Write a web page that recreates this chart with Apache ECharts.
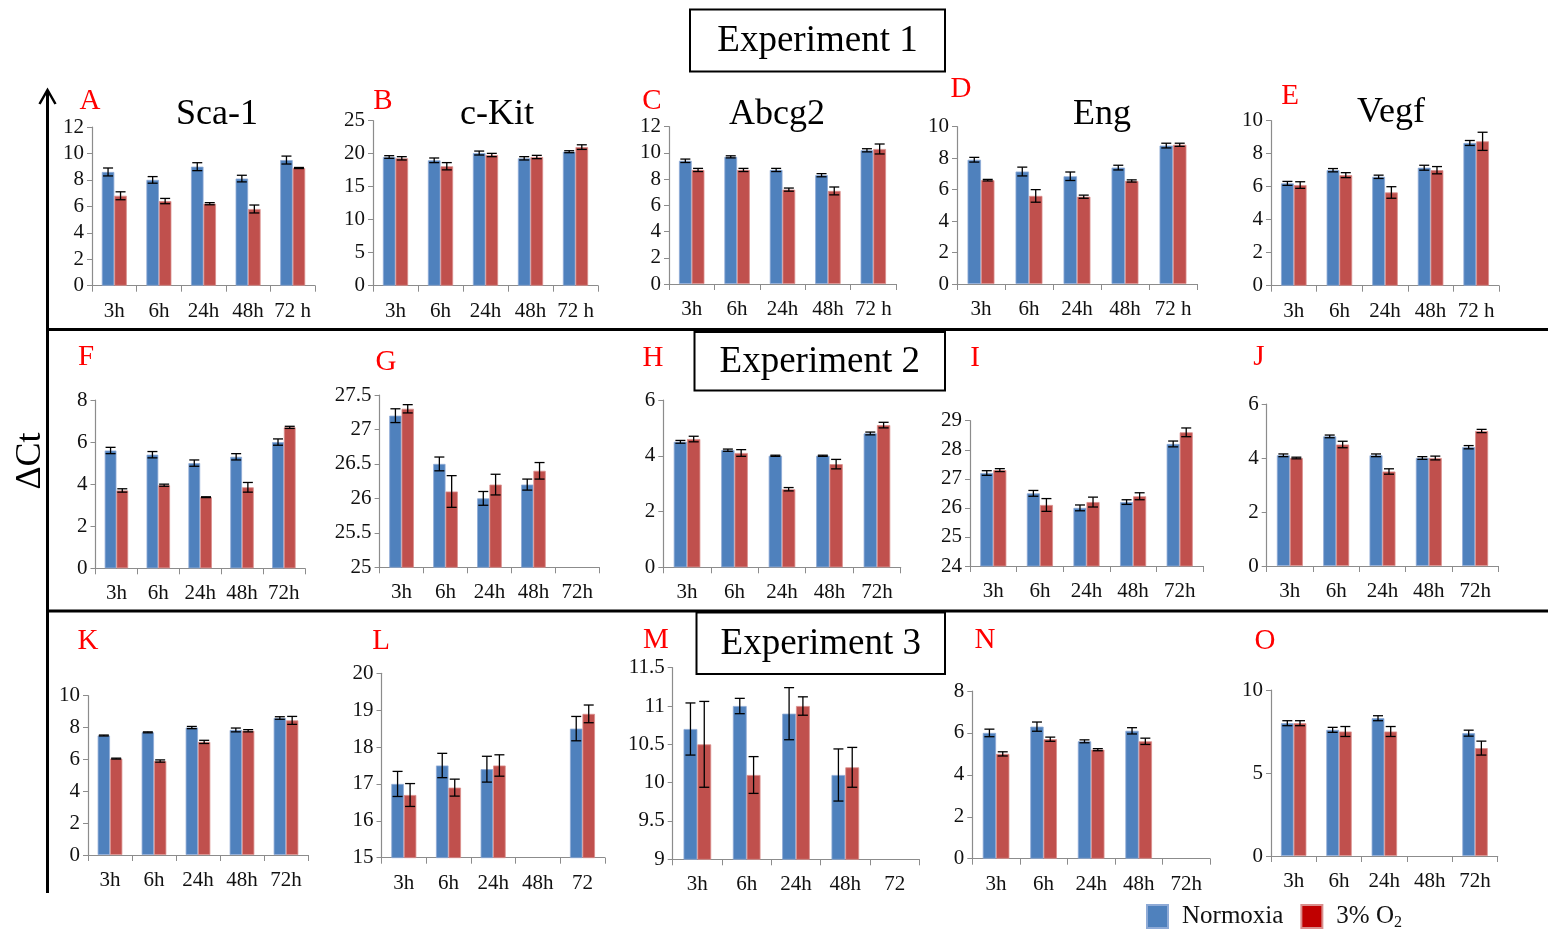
<!DOCTYPE html>
<html>
<head>
<meta charset="utf-8">
<script src="https://cdn.jsdelivr.net/npm/echarts@6/dist/echarts.min.js"></script>
<style>
html,body{margin:0;padding:0;background:#fff;}
#main{width:1548px;height:933px;}
</style>
</head>
<body>
<div id="main"></div>
<script>
// 时间点
var timeCats1=['3h','6h','24h','48h','72 h'];
var timeCats2=['3h','6h','24h','48h','72h'];
var timeCats3=['3h','6h','24h','48h','72'];

// Experiment 1
var aNorm=[8.6,8.0,9.0,8.1,9.5],       aNormErr=[0.3,0.25,0.3,0.25,0.3];
var aHyp=[6.8,6.4,6.2,5.8,8.9],        aHypErr=[0.3,0.2,0.08,0.3,0.04];
var bNorm=[19.5,19.0,20.1,19.3,20.3],  bNormErr=[0.2,0.35,0.3,0.25,0.15];
var bHyp=[19.3,18.1,19.8,19.5,21.0],   bHypErr=[0.25,0.55,0.25,0.25,0.35];
var cNorm=[9.4,9.7,8.7,8.3,10.2],      cNormErr=[0.13,0.08,0.12,0.12,0.12];
var cHyp=[8.7,8.7,7.2,7.1,10.3],       cHypErr=[0.12,0.12,0.12,0.3,0.38];
var dNorm=[7.9,7.15,6.85,7.4,8.8],     dNormErr=[0.15,0.28,0.27,0.15,0.15];
var dHyp=[6.6,5.6,5.55,6.55,8.85],     dHypErr=[0.05,0.4,0.1,0.07,0.1];
var eNorm=[6.2,7.0,6.6,7.15,8.65],     eNormErr=[0.12,0.1,0.1,0.15,0.15];
var eHyp=[6.1,6.7,5.65,7.0,8.75],      eHypErr=[0.2,0.15,0.35,0.22,0.55];
// Experiment 2
var fNorm=[5.6,5.4,5.0,5.3,6.0],       fNormErr=[0.15,0.15,0.15,0.15,0.15];
var fHyp=[3.7,3.95,3.38,3.85,6.7],     fHypErr=[0.08,0.05,0.02,0.23,0.05];
var gNorm=[27.2,26.5,26.0,26.2,null],  gNormErr=[0.1,0.1,0.1,0.08,null];
var gHyp=[27.3,26.1,26.2,26.4,null],   gHypErr=[0.06,0.23,0.15,0.12,null];
var hNorm=[4.5,4.2,4.0,4.0,4.8],       hNormErr=[0.05,0.04,0.02,0.02,0.05];
var hHyp=[4.6,4.1,2.8,3.7,5.1],        hHypErr=[0.1,0.12,0.06,0.17,0.1];
var iNorm=[27.2,26.5,26.0,26.2,28.2],  iNormErr=[0.08,0.1,0.1,0.08,0.1];
var iHyp=[27.3,26.1,26.2,26.4,28.6],   iHypErr=[0.05,0.22,0.17,0.12,0.15];
var jNorm=[4.1,4.8,4.1,4.0,4.4],       jNormErr=[0.05,0.05,0.05,0.05,0.06];
var jHyp=[4.0,4.5,3.5,4.0,5.0],        jHypErr=[0.03,0.12,0.1,0.07,0.06];
// Experiment 3
var kNorm=[7.5,7.7,8.0,7.85,8.6],      kNormErr=[0.03,0.03,0.07,0.12,0.08];
var kHyp=[6.05,5.9,7.1,7.8,8.45],      kHypErr=[0.03,0.07,0.1,0.07,0.25];
var lNorm=[17.0,17.5,17.4,null,18.5],  lNormErr=[0.34,0.33,0.35,null,0.33];
var lHyp=[16.7,16.9,17.5,null,18.9],   lHypErr=[0.31,0.23,0.29,null,0.24];
var mNorm=[10.7,11.0,10.9,10.1,null],  mNormErr=[0.34,0.1,0.34,0.34,null];
var mHyp=[10.5,10.1,11.0,10.2,null],   mHypErr=[0.56,0.24,0.12,0.26,null];
var nNorm=[6.0,6.3,5.6,6.1,null],      nNormErr=[0.18,0.22,0.07,0.15,null];
var nHyp=[5.0,5.7,5.2,5.6,null],       nHypErr=[0.1,0.1,0.05,0.15,null];
var oNorm=[8.0,7.6,8.3,null,7.4],      oNormErr=[0.15,0.15,0.15,null,0.18];
var oHyp=[8.0,7.5,7.5,null,6.5],       oHypErr=[0.15,0.3,0.3,null,0.42];

var seriesNames=['Normoxia','3% O2'];

// 每个小图: 字母, 标题, 类别, 数据, y轴范围, grid位置 [left,top,width,height]
var panels=[
	{tag:'A',gene:'Sca-1',cats:timeCats1,norm:aNorm,normErr:aNormErr,hyp:aHyp,hypErr:aHypErr,min:0,max:12,step:2,rect:[92,127,223,158.7],tagPos:[90,101],genePos:[217,115]},
	{tag:'B',gene:'c-Kit',cats:timeCats1,norm:bNorm,normErr:bNormErr,hyp:bHyp,hypErr:bHypErr,min:0,max:25,step:5,rect:[373,120.7,225,165],tagPos:[383,101],genePos:[497,115]},
	{tag:'C',gene:'Abcg2',cats:timeCats1,norm:cNorm,normErr:cNormErr,hyp:cHyp,hypErr:cHypErr,min:0,max:12,step:2,rect:[669,126.7,227,157.3],tagPos:[652,101],genePos:[777,115]},
	{tag:'D',gene:'Eng',cats:timeCats1,norm:dNorm,normErr:dNormErr,hyp:dHyp,hypErr:dHypErr,min:0,max:10,step:2,rect:[957,126.7,240,157.3],tagPos:[961,89],genePos:[1102,115]},
	{tag:'E',gene:'Vegf',cats:timeCats1,norm:eNorm,normErr:eNormErr,hyp:eHyp,hypErr:eHypErr,min:0,max:10,step:2,rect:[1271,120.7,228,165],tagPos:[1290,96],genePos:[1391,113]},
	{tag:'F',cats:timeCats2,norm:fNorm,normErr:fNormErr,hyp:fHyp,hypErr:fHypErr,min:0,max:8,step:2,rect:[95.5,400,209.3,168.3],tagPos:[86,357]},
	{tag:'G',cats:timeCats2,norm:gNorm,normErr:gNormErr,hyp:gHyp,hypErr:gHypErr,min:25,max:27.5,step:0.5,rect:[379.6,395,219.7,172.3],tagPos:[386,362]},
	{tag:'H',cats:timeCats2,norm:hNorm,normErr:hNormErr,hyp:hHyp,hypErr:hHypErr,min:0,max:6,step:2,rect:[663.3,400,237.4,167.3],tagPos:[653,358]},
	{tag:'I',cats:timeCats2,norm:iNorm,normErr:iNormErr,hyp:iHyp,hypErr:iHypErr,min:24,max:29,step:1,rect:[970,420.7,233,145.3],tagPos:[975,358]},
	{tag:'J',cats:timeCats2,norm:jNorm,normErr:jNormErr,hyp:jHyp,hypErr:jHypErr,min:0,max:6,step:2,rect:[1266.7,404,231.6,162],tagPos:[1259,357]},
	{tag:'K',cats:timeCats2,norm:kNorm,normErr:kNormErr,hyp:kHyp,hypErr:kHypErr,min:0,max:10,step:2,rect:[88,695.7,220,159.3],tagPos:[88,641]},
	{tag:'L',cats:timeCats3,norm:lNorm,normErr:lNormErr,hyp:lHyp,hypErr:lHypErr,min:15,max:20,step:1,rect:[381.5,673.3,223.3,184.4],tagPos:[381,641]},
	{tag:'M',cats:timeCats3,norm:mNorm,normErr:mNormErr,hyp:mHyp,hypErr:mHypErr,min:9,max:11.5,step:0.5,rect:[672.7,667.7,246.6,191.6],tagPos:[656,640]},
	{tag:'N',cats:timeCats2,norm:nNorm,normErr:nNormErr,hyp:nHyp,hypErr:nHypErr,min:0,max:8,step:2,rect:[972.3,691,237.7,167.7],tagPos:[985,640]},
	{tag:'O',cats:timeCats2,norm:oNorm,normErr:oNormErr,hyp:oHyp,hypErr:oHypErr,min:0,max:10,step:5,rect:[1271,690,226.7,166],tagPos:[1265,641]}
];

var FONT='Liberation Serif';
var BLUE='#4F81BD', RED='#C0504D';
var CAT_GAP=0.44;

function toBar(arr){
	return arr.map(function(v){ return v==null ? '-' : v; });
}
function toErr(vals,errs,side){
	var out=[];
	for(var i=0;i<vals.length;i++){
		if(vals[i]==null) continue;
		out.push([i,vals[i],errs[i],side]);
	}
	return out;
}

// 误差线
function renderErr(params,api){
	var ci=api.value(0), v=api.value(1), e=api.value(2), side=api.value(3);
	var band=api.size([1,0])[0];
	var off=side*band*(1-CAT_GAP)/4;
	var hi=api.coord([ci,v+e]);
	var lo=api.coord([ci,v-e]);
	var x=hi[0]+off, w=5;
	var st={stroke:'#000',lineWidth:1.3};
	return {
		type:'group',
		children:[
			{type:'line',shape:{x1:x,y1:hi[1],x2:x,y2:lo[1]},style:st},
			{type:'line',shape:{x1:x-w,y1:hi[1],x2:x+w,y2:hi[1]},style:st},
			{type:'line',shape:{x1:x-w,y1:lo[1],x2:x+w,y2:lo[1]},style:st}
		]
	};
}

var grids=[],xAxes=[],yAxes=[],series=[],graphics=[];

for(var p=0;p<panels.length;p++){
	var pn=panels[p];
	grids.push({left:pn.rect[0],top:pn.rect[1],width:pn.rect[2],height:pn.rect[3],containLabel:false});
	xAxes.push({
		type:'category',gridIndex:p,data:pn.cats,
		axisLine:{lineStyle:{color:'#8C8C8C',width:1.2}},
		axisTick:{show:true,length:6,lineStyle:{color:'#8C8C8C'}},
		axisLabel:{interval:0,margin:15,color:'#111',fontSize:21,fontFamily:FONT}
	});
	yAxes.push({
		type:'value',gridIndex:p,min:pn.min,max:pn.max,interval:pn.step,
		axisLine:{show:true,lineStyle:{color:'#8C8C8C',width:1.2}},
		axisTick:{show:true,length:5,lineStyle:{color:'#8C8C8C'}},
		splitLine:{show:false},
		axisLabel:{margin:8,color:'#111',fontSize:21,fontFamily:FONT}
	});
	series.push({
		name:seriesNames[0],type:'bar',xAxisIndex:p,yAxisIndex:p,data:toBar(pn.norm),
		barGap:'0%',barCategoryGap:(CAT_GAP*100)+'%',
		itemStyle:{color:BLUE,borderColor:'#8EAAD6',borderWidth:0.8},
		animation:false
	});
	series.push({
		name:seriesNames[1],type:'bar',xAxisIndex:p,yAxisIndex:p,data:toBar(pn.hyp),
		barGap:'0%',barCategoryGap:(CAT_GAP*100)+'%',
		itemStyle:{color:RED,borderColor:'#DA8E8C',borderWidth:0.8},
		animation:false
	});
	series.push({
		name:seriesNames[0],type:'custom',xAxisIndex:p,yAxisIndex:p,z:5,
		renderItem:renderErr,encode:{x:0,y:1},
		data:toErr(pn.norm,pn.normErr,-1),animation:false,silent:true
	});
	series.push({
		name:seriesNames[1],type:'custom',xAxisIndex:p,yAxisIndex:p,z:5,
		renderItem:renderErr,encode:{x:0,y:1},
		data:toErr(pn.hyp,pn.hypErr,1),animation:false,silent:true
	});
	graphics.push({
		type:'text',x:pn.tagPos[0],y:pn.tagPos[1],
		style:{text:pn.tag,fill:'#FF0000',font:'29px '+FONT,textAlign:'center',textVerticalAlign:'middle'}
	});
	if(pn.gene){
		graphics.push({
			type:'text',x:pn.genePos[0],y:pn.genePos[1],
			style:{text:pn.gene,fill:'#000',font:'36px '+FONT,textAlign:'center',textVerticalAlign:'middle'}
		});
	}
}

// 外框线和箭头
graphics.push({type:'line',shape:{x1:47.5,y1:91,x2:47.5,y2:893},style:{stroke:'#000',lineWidth:3}});
graphics.push({type:'polyline',shape:{points:[[39.5,104],[47.5,90],[55.5,104]]},style:{stroke:'#000',lineWidth:2.5,fill:null}});
graphics.push({type:'line',shape:{x1:46,y1:329.5,x2:1548,y2:329.5},style:{stroke:'#000',lineWidth:3}});
graphics.push({type:'line',shape:{x1:46,y1:611,x2:1548,y2:611},style:{stroke:'#000',lineWidth:3}});
graphics.push({
	type:'text',x:31,y:461,rotation:Math.PI/2,
	style:{text:'ΔCt',fill:'#000',font:'36px '+FONT,textAlign:'center',textVerticalAlign:'middle'}
});

// 实验标题框
var expBoxes=[
	{text:'Experiment 1',rect:[690,9.5,255,62]},
	{text:'Experiment 2',rect:[694.5,332,250.5,58.5]},
	{text:'Experiment 3',rect:[696.5,612.5,248.5,61.5]}
];
for(var b=0;b<expBoxes.length;b++){
	var bx=expBoxes[b];
	graphics.push({type:'rect',shape:{x:bx.rect[0],y:bx.rect[1],width:bx.rect[2],height:bx.rect[3]},style:{stroke:'#000',lineWidth:2,fill:'#fff'},z:10});
	graphics.push({type:'text',x:bx.rect[0]+bx.rect[2]/2,y:bx.rect[1]+bx.rect[3]/2+1,z:11,
		style:{text:bx.text,fill:'#000',font:'37px '+FONT,textAlign:'center',textVerticalAlign:'middle'}});
}

var chart=echarts.init(document.getElementById('main'),null,{renderer:'canvas'});
chart.setOption({
	backgroundColor:'#ffffff',
	animation:false,
	grid:grids,
	xAxis:xAxes,
	yAxis:yAxes,
	series:series,
	legend:{
		left:1146,top:904,padding:0,itemGap:17,itemWidth:21,itemHeight:23,icon:'rect',
		data:[
			{name:'Normoxia',itemStyle:{color:BLUE}},
			{name:'3% O2',itemStyle:{color:'#C00000'}}
		],
		formatter:function(name){
			return name=='3% O2' ? '3% O{sub|2}' : name;
		},
		textStyle:{
			fontSize:25,fontFamily:FONT,color:'#111',padding:[0,0,0,9],
			rich:{sub:{fontSize:16,fontFamily:FONT,color:'#111',padding:[12,0,0,0]}}
		}
	},
	graphic:graphics
});
</script>
</body>
</html>
